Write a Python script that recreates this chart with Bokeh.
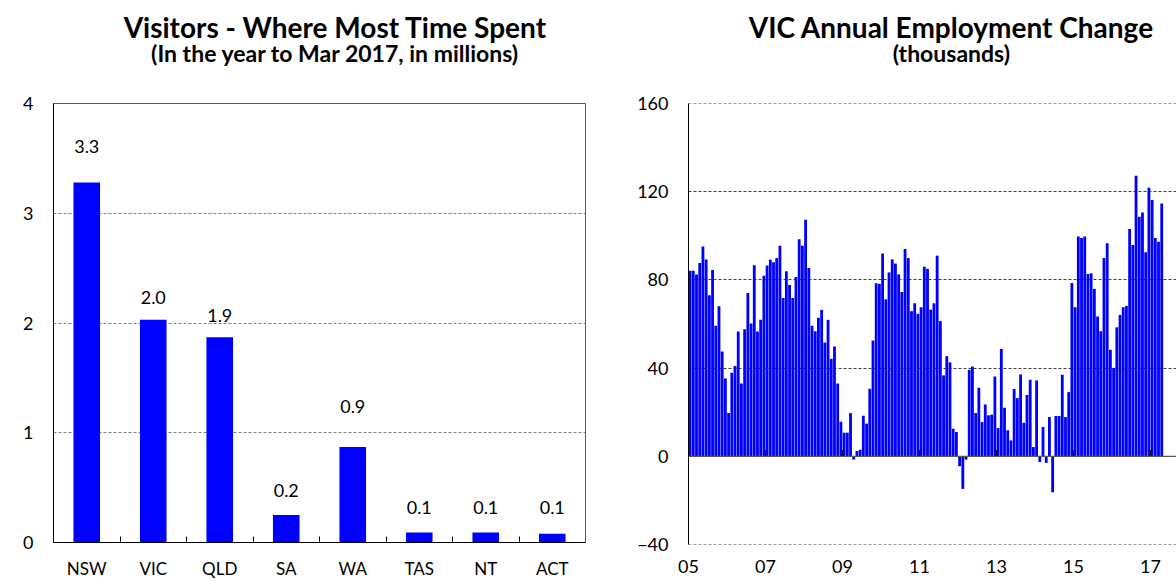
from bokeh.plotting import figure
from bokeh.models import FixedTicker, Span, Range1d
from bokeh.layouts import row, column
from bokeh.embed import file_html
from bokeh.resources import INLINE
from bokeh.core.properties import value

# ---------------- data ----------------
states = ["NSW", "VIC", "QLD", "SA", "WA", "TAS", "NT", "ACT"]
visitors = [3.28, 2.03, 1.87, 0.25, 0.87, 0.09, 0.09, 0.08]
visitor_labels = ["3.3", "2.0", "1.9", "0.2", "0.9", "0.1", "0.1", "0.1"]

emp_start_year = 2005
emp_change = [
    84.2, 84.2, 82.4, 87.7, 95.2, 89.3, 73.0, 84.5, 59.2, 68.1, 47.5, 35.3,
    19.6, 37.9, 41.0, 56.6, 33.0, 57.6, 74.1, 60.2, 86.6, 56.6, 61.9, 81.9,
    86.5, 89.2, 88.0, 89.9, 95.5, 71.8, 83.9, 77.7, 71.8, 81.3, 98.4, 95.5,
    107.3, 85.4, 59.2, 56.7, 62.8, 66.4, 51.6, 61.9, 44.2, 49.8, 33.0, 15.7,
    10.7, 10.7, 19.6, -1.5, 2.4, 3.0, 18.4, 14.8, 30.6, 52.5, 78.5, 78.2,
    92.0, 71.2, 83.4, 89.3, 87.4, 82.5, 74.5, 94.0, 89.9, 65.8, 69.4, 64.6,
    67.6, 86.0, 85.0, 66.5, 69.4, 91.0, 61.3, 36.7, 45.4, 42.6, 12.5, 11.0,
    -4.5, -14.8, -1.5, 39.2, 40.7, 19.6, 31.1, 15.5, 23.5, 18.6, 18.9, 36.2,
    12.8, 48.7, 22.0, 11.8, 7.2, 30.5, 26.4, 37.1, 15.2, 27.8, 34.7, 4.2,
    34.4, -2.6, 13.3, -3.0, 17.8, -16.3, 18.3, 18.3, 37.0, 17.8, 29.1, 78.6,
    67.6, 99.7, 99.0, 99.7, 82.7, 83.0, 75.9, 63.4, 56.7, 89.9, 96.6, 48.3,
    40.1, 58.5, 64.1, 67.6, 68.2, 103.1, 95.8, 127.2, 108.6, 110.6, 92.5, 121.8,
    116.2, 99.0, 97.3, 114.7,
]
year_ticks = [2005, 2007, 2009, 2011, 2013, 2015, 2017]
year_labels = ["05", "07", "09", "11", "13", "15", "17"]
emp_y_ticks = [-40, 0, 40, 80, 120, 160]
visitor_y_ticks = [0, 1, 2, 3, 4]

# ---------------- style ----------------
FONT = "Lato"
BLUE = "#0000FF"
TICK_SIZE = "18px"
HEADER_H = 85
TOP = 18
FRAME_H = 441
BOTTOM = 37
CHART_H = TOP + FRAME_H + BOTTOM
W1, W2 = 620, 556


def header(width, cx, main, sub):
    """A blank strip holding the two title lines (coordinates = pixels)."""
    h = figure(width=width, height=HEADER_H, x_range=Range1d(0, width), y_range=Range1d(0, HEADER_H),
               output_backend="svg", toolbar_location=None, min_border=0,
               x_axis_location=None, y_axis_location=None)
    h.outline_line_color = None
    h.grid.visible = False
    h.background_fill_color = "white"
    h.border_fill_color = "white"
    h.text(x=[cx], y=[HEADER_H - 26], text=[main], text_font=value(FONT), text_font_size="28px",
           text_font_style="bold", text_align="center", text_baseline="middle", text_color="black")
    h.text(x=[cx], y=[HEADER_H - 52], text=[sub], text_font=value(FONT), text_font_size="23px",
           text_font_style="bold", text_align="center", text_baseline="middle", text_color="black")
    return h


# ============ left chart ============
p1 = figure(width=W1, height=CHART_H, x_range=Range1d(0, 8), y_range=Range1d(0, 4),
            output_backend="svg", toolbar_location=None,
            min_border_left=53, min_border_right=35, min_border_top=TOP,
            min_border_bottom=BOTTOM)
p1.background_fill_color = "white"
p1.border_fill_color = "white"
p1.outline_line_color = "#595959"
p1.outline_line_width = 1

centers = [i + 0.5 for i in range(len(states))]
bounds = [i for i in range(1, len(states))]
p1.vbar(x=centers, top=visitors, width=0.4, bottom=0, fill_color=BLUE, line_color=None)

# value labels (positions)
label_y = [3.61, 2.23, 2.07, 0.47, 1.24, 0.32, 0.32, 0.32]
p1.text(x=centers, y=label_y, text=visitor_labels, text_font=value(FONT),
        text_font_size="18px", text_align="center", text_baseline="middle", text_color="black")

xa = p1.xaxis[0]
xa.ticker = FixedTicker(ticks=centers, minor_ticks=bounds)
xa.major_label_overrides = {c: s for c, s in zip(centers, states)}
xa.major_tick_in = 0
xa.major_tick_out = 0
xa.minor_tick_in = 6
xa.minor_tick_out = 0
xa.minor_tick_line_color = "black"
xa.axis_line_color = "black"
xa.major_label_standoff = 15

ya = p1.yaxis[0]
ya.ticker = FixedTicker(ticks=visitor_y_ticks)
ya.major_tick_in = 0
ya.major_tick_out = 0
ya.minor_tick_line_color = None
ya.axis_line_color = "black"
ya.major_label_standoff = 20

for ax in (xa, ya):
    ax.major_label_text_font = FONT
    ax.major_label_text_font_size = TICK_SIZE
    ax.major_label_text_color = "black"
xa.major_label_text_font_size = "17px"

p1.xgrid.visible = False
p1.ygrid.ticker = FixedTicker(ticks=visitor_y_ticks)
p1.ygrid.grid_line_color = "#808080"
p1.ygrid.grid_line_dash = "3 2"
p1.ygrid.grid_line_width = 1

h1 = header(W1, 328.5, "Visitors - Where Most Time Spent", "(In the year to Mar 2017, in millions)")

# ============ right chart ============
px_per_year = 38.5
frame_w2 = W2 - 68
p2 = figure(width=W2, height=CHART_H,
            x_range=Range1d(emp_start_year, emp_start_year + frame_w2 / px_per_year),
            y_range=Range1d(emp_y_ticks[0], emp_y_ticks[-1]),
            output_backend="svg", toolbar_location=None,
            min_border_left=68, min_border_right=0, min_border_top=TOP,
            min_border_bottom=BOTTOM)
p2.background_fill_color = "white"
p2.border_fill_color = "white"
p2.outline_line_color = None

months_x = [emp_start_year + (i + 0.5) / 12 for i in range(len(emp_change))]
p2.vbar(x=months_x, top=emp_change, bottom=0, width=0.88 / 12, fill_color=BLUE, line_color=None)

# dashed lines at the range ends (top / bottom of the plot area)
for loc in (emp_y_ticks[0], emp_y_ticks[-1]):
    p2.add_layout(Span(location=loc, dimension="width", line_color="#404040",
                       line_width=1, line_dash="3 2"))
p2.add_layout(Span(location=0, dimension="width", line_color="#595959", line_width=1.2))
# tick marks on the zero line
p2.segment(x0=year_ticks, y0=[0] * len(year_ticks), x1=year_ticks, y1=[2.8] * len(year_ticks),
           line_color="black", line_width=1.3)

xb = p2.xaxis[0]
xb.ticker = FixedTicker(ticks=year_ticks)
xb.major_label_overrides = {t: s for t, s in zip(year_ticks, year_labels)}
xb.major_tick_in = 0
xb.major_tick_out = 0
xb.minor_tick_line_color = None
xb.axis_line_color = None
xb.major_label_standoff = 15

yb = p2.yaxis[0]
yb.ticker = FixedTicker(ticks=emp_y_ticks)
yb.major_tick_in = 0
yb.major_tick_out = 0
yb.minor_tick_line_color = None
yb.axis_line_color = "black"
yb.major_label_standoff = 20

for ax in (xb, yb):
    ax.major_label_text_font = FONT
    ax.major_label_text_font_size = TICK_SIZE
    ax.major_label_text_color = "black"

p2.xgrid.visible = False
p2.ygrid.ticker = FixedTicker(ticks=emp_y_ticks)
p2.ygrid.grid_line_color = "#404040"
p2.ygrid.grid_line_dash = "3 2"
p2.ygrid.grid_line_width = 1

h2 = header(W2, 919.5 - W1, "VIC Annual Employment Change", "(thousands)")

layout = row(column(h1, p1), column(h2, p2))
open("out.html", "w").write(file_html(layout, INLINE))
